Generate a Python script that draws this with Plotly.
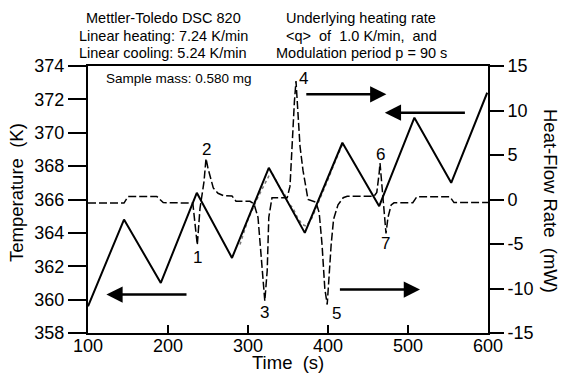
import plotly.graph_objects as go

# Temperature programme (left axis, K)
temp_time = [100, 145, 191, 236, 280, 326, 371, 418, 464, 508, 554, 599]
temp_vals = [359.6, 364.8, 361.0, 366.4, 362.5, 367.9, 364.0, 369.4, 365.6, 370.9, 367.0, 372.4]

# Sample temperature (dotted, lags near transitions)
samp_time = [290, 300, 312, 320, 326, 331, 340, 346, 350, 356, 362, 368, 373, 380, 390, 400, 410, 418]
samp_vals = [363.3, 364.8, 366.1, 366.9, 367.4, 367.5, 366.7, 366.3, 365.8, 365.5, 364.9, 364.5, 364.4, 364.9, 366.0, 367.2, 368.4, 369.3]

# Heat-flow rate (right axis, mW)
hf_time = [100, 145, 150, 186, 194, 231, 236.6, 240, 245, 247.5, 250, 256.6, 262.5, 269, 280, 285,
           302.5, 307.5, 312.5, 317.5, 321, 324, 326, 330, 349, 352.5, 355, 358, 360, 362.5, 365,
           368.7, 375, 385, 389, 392.5, 396, 399, 401, 404, 407, 412.5, 419, 424, 457.5, 461, 464,
           465, 467, 469, 472.5, 475, 479, 482.5, 506, 511, 552.5, 557.5, 600]
hf_vals = [-0.4, -0.4, 0.35, 0.35, -0.35, -0.4, -5.1, -1.0, 2.0, 4.6, 3.5, 1.3, 0.7, 0.45, 0.4, -0.2,
           -0.2, -0.5, -2.0, -7.0, -11.4, -8.0, -2.0, 0.2, 0.2, 1.5, 6.0, 11.0, 13.3, 10.0, 6.0,
           3.3, 0.0, -0.3, -1.5, -5.0, -10.0, -11.8, -9.0, -5.0, -2.2, -0.6, 0.2, 0.37, 0.37, 0.8, 3.0,
           4.1, 2.0, -0.5, -3.8, -2.0, -0.6, -0.37, -0.37, 0.3, 0.3, -0.35, -0.35]

x_ticks = [100, 200, 300, 400, 500, 600]
y_ticks = [358, 360, 362, 364, 366, 368, 370, 372, 374]
y2_ticks = [-15, -10, -5, 0, 5, 10, 15]
y2_ticktext = ["-15", "-10", "-5", "0", "5", "10", "15"]

peak_labels = ["1", "2", "3", "4", "5", "6", "7"]
peak_t = [236.9, 247.5, 320.6, 369.1, 410.6, 465, 471.9]
peak_T = [362.5, 369.0, 359.2, 373.26, 359.14, 368.67, 363.34]

FONT = "Liberation Sans, Arial, sans-serif"

fig = go.Figure()
fig.add_trace(go.Scatter(x=hf_time, y=hf_vals, yaxis="y2", mode="lines",
                         line=dict(color="black", width=1.5, dash="8px,3px"), showlegend=False))
fig.add_trace(go.Scatter(x=samp_time, y=samp_vals, mode="lines",
                         line=dict(color="#777777", width=1.5, dash="dot"), showlegend=False))
fig.add_trace(go.Scatter(x=temp_time, y=temp_vals, mode="lines",
                         line=dict(color="black", width=2), showlegend=False))

ann = []
for lab, t, T in zip(peak_labels, peak_t, peak_T):
    ann.append(dict(x=t, y=T, xref="x", yref="y", text=lab, showarrow=False,
                    font=dict(size=17, color="black", family=FONT)))

arrows = [(123, 225, 360.3), (515, 413, 360.6), (473, 371, 372.3), (471, 573, 371.2)]
for tip, tail, T in arrows:
    ann.append(dict(x=tip, y=T, ax=tail, ay=T, xref="x", yref="y", axref="x", ayref="y",
                    text="", showarrow=True, arrowhead=2, arrowsize=1.3, arrowwidth=2.5,
                    arrowcolor="black"))

top_left = ["Mettler-Toledo DSC 820", "Linear heating: 7.24 K/min", "Linear cooling: 5.24 K/min"]
top_right = ["Underlying heating rate", "&lt;q&gt;  of  1.0 K/min,  and", "Modulation period p = 90 s"]
line_y = [18.3, 36, 53.3]
for i in range(3):
    py = (333 - line_y[i]) / 267
    ann.append(dict(x=(163.3 - 88) / 400, y=py, xref="paper", yref="paper", text=top_left[i],
                    showarrow=False, xanchor="center", yanchor="middle",
                    font=dict(size=14.5, color="black", family=FONT)))
    ann.append(dict(x=(361 - 88) / 400, y=py, xref="paper", yref="paper", text=top_right[i],
                    showarrow=False, xanchor="center", yanchor="middle",
                    font=dict(size=14.5, color="black", family=FONT)))

ann.append(dict(x=(104 - 88) / 400, y=(333 - 78.3) / 267, xref="paper", yref="paper",
                text="Sample mass: 0.580 mg", showarrow=False, xanchor="left", yanchor="middle",
                font=dict(size=13.5, color="black", family=FONT)))

ann.append(dict(x=(288 - 88) / 400, y=(333 - 362) / 267, xref="paper", yref="paper",
                text="Time  (s)", showarrow=False, xanchor="center", yanchor="middle",
                font=dict(size=18.5, color="black", family=FONT)))
ann.append(dict(x=(16 - 88) / 400, y=(333 - 193) / 267, xref="paper", yref="paper",
                text="Temperature  (K)", showarrow=False, textangle=-90,
                xanchor="center", yanchor="middle",
                font=dict(size=18.5, color="black", family=FONT)))
ann.append(dict(x=(551 - 88) / 400, y=(333 - 201) / 267, xref="paper", yref="paper",
                text="Heat-Flow Rate  (mW)", showarrow=False, textangle=90,
                xanchor="center", yanchor="middle",
                font=dict(size=18.5, color="black", family=FONT)))

fig.update_layout(
    width=561, height=375,
    margin=dict(l=88, r=73, t=66, b=42, autoexpand=False),
    paper_bgcolor="white", plot_bgcolor="white",
    showlegend=False,
    font=dict(family=FONT, color="black"),
    xaxis=dict(range=[100, 600], tickvals=x_ticks, ticks="inside", ticklen=8, tickwidth=2,
               tickcolor="black", showline=True, linecolor="black", linewidth=2, mirror=True,
               automargin=False, ticklabelstandoff=-5,
               showgrid=False, zeroline=False, tickfont=dict(size=18, color="black", family=FONT)),
    yaxis=dict(range=[358, 374], tickvals=y_ticks, ticks="outside", ticklen=18, tickwidth=2,
               tickcolor="black", showline=True, linecolor="black", linewidth=2, automargin=False,
               showgrid=False, zeroline=False, tickfont=dict(size=18, color="black", family=FONT)),
    yaxis2=dict(range=[-15, 15], tickvals=y2_ticks, ticktext=y2_ticktext, ticks="outside",
                ticklen=14, tickwidth=2, automargin=False,
                tickcolor="black", showline=True, linecolor="black", linewidth=2,
                overlaying="y", side="right", showgrid=False, zeroline=False,
                tickfont=dict(size=18, color="black", family=FONT)),
    annotations=ann,
)

fig.write_html("out.html", config={"displayModeBar": False},
               post_script="document.body.style.margin='0';document.body.style.overflow='hidden';")
